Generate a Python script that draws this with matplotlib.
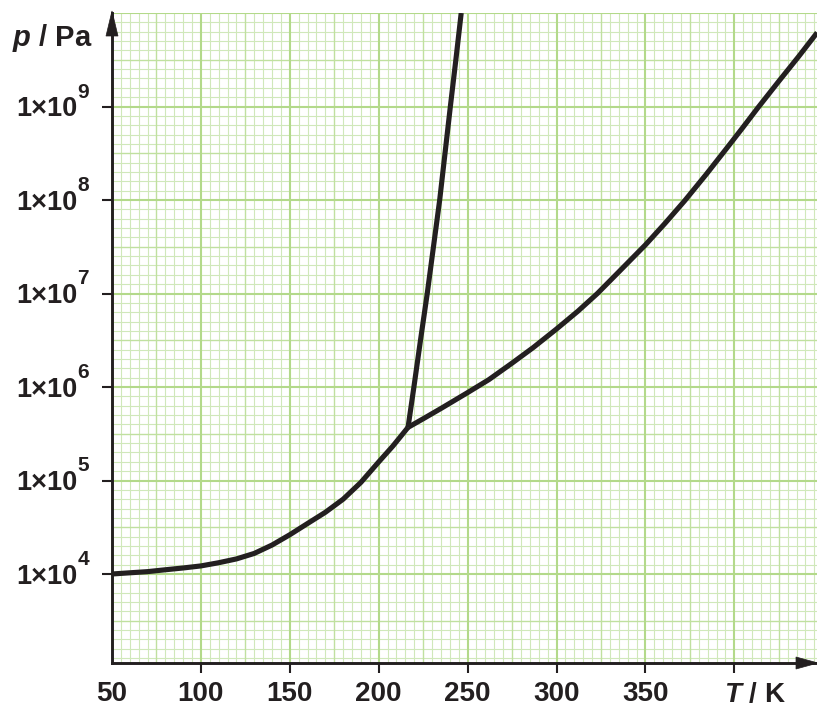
import numpy as np
import matplotlib
matplotlib.use("Agg")
import matplotlib.pyplot as plt
from matplotlib.patches import Polygon
from matplotlib.transforms import blended_transform_factory, offset_copy

# ---- data ----
sub_T = [50, 60, 70, 80, 90, 100, 110, 120, 130, 140, 150, 160, 170, 180, 190, 200, 208, 216.5]
sub_p = [1.0e4, 1.03e4, 1.06e4, 1.11e4, 1.16e4, 1.22e4, 1.32e4, 1.45e4, 1.66e4, 2.04e4,
         2.63e4, 3.47e4, 4.57e4, 6.31e4, 9.55e4, 1.58e5, 2.34e5, 3.7e5]

vap_T = [216.5, 225, 235, 250, 262, 275, 287, 300, 312, 323, 335, 350, 361, 372, 384,
         396, 405, 413, 425, 436, 446.6]
vap_p = [3.7e5, 4.57e5, 5.89e5, 8.71e5, 1.20e6, 1.80e6, 2.65e6, 4.17e6, 6.46e6, 1.0e7,
         1.70e7, 3.31e7, 5.62e7, 9.77e7, 1.86e8, 3.63e8, 6.03e8, 9.55e8, 1.86e9, 3.39e9, 6.17e9]

melt_T = [216.5, 219.8, 223.5, 227.3, 230.8, 234.3, 237.3, 240.3, 243.4, 246.4]
melt_p = [3.7e5, 1.0e6, 3.16e6, 1.0e7, 3.16e7, 1.0e8, 3.16e8, 1.0e9, 3.16e9, 1.0e10]

x_ticks = [50, 100, 150, 200, 250, 300, 350, 400]
x_labels = ["50", "100", "150", "200", "250", "300", "350", ""]
y_exps = [4, 5, 6, 7, 8, 9]

# ---- style ----
W, H = 817, 709
plt.rcParams["font.family"] = ["Liberation Sans", "DejaVu Sans"]
plt.rcParams["font.weight"] = "bold"
plt.rcParams["mathtext.fontset"] = "custom"
plt.rcParams["mathtext.rm"] = "Liberation Sans:bold"
plt.rcParams["mathtext.it"] = "Liberation Sans:italic:bold"
plt.rcParams["mathtext.bf"] = "Liberation Sans:bold"

INK = "#231f20"
MAJ = "#b3d98a"
MED = "#c0e09f"
MIN = "#d0e8ba"

fig = plt.figure(figsize=(W / 100, H / 100), dpi=100)
fig.patch.set_facecolor("white")

def fx(px):
    return px / W

def fy(py):
    return 1 - py / H

ax = fig.add_axes([fx(112), fy(663), fx(817) - fx(112), fy(13) - fy(663)])
ax.set_yscale("log")
ax.set_xlim(50, 50 + 705 / 88.9 * 50)
ax.set_ylim(10 ** (4 - 89 / 93.5), 1e10)

# graph-paper grid
for k in range(0, 90):
    xv = 50 + 5 * k
    if k % 10 == 0:
        ax.axvline(xv, color=MAJ, lw=1.5, zorder=1)
    elif k % 5 == 0:
        ax.axvline(xv, color=MED, lw=1.0, zorder=0.8)
    else:
        ax.axvline(xv, color=MIN, lw=0.8, zorder=0.5)
for k in range(30, 101):
    yv = 10 ** (k / 10)
    if k % 10 == 0:
        ax.axhline(yv, color=MAJ, lw=1.5, zorder=1)
    elif k % 5 == 0:
        ax.axhline(yv, color=MED, lw=1.0, zorder=0.8)
    else:
        ax.axhline(yv, color=MIN, lw=0.8, zorder=0.5)

# curves
for T, p in [(sub_T, sub_p), (vap_T, vap_p), (melt_T, melt_p)]:
    ax.plot(T, p, color=INK, lw=3.7, solid_joinstyle="round",
            solid_capstyle="butt", zorder=5)

# spines
for s in ["top", "right"]:
    ax.spines[s].set_visible(False)
for s in ["left", "bottom"]:
    ax.spines[s].set_color(INK)
    ax.spines[s].set_linewidth(2.1)
    ax.spines[s].set_zorder(6)

# ticks
ax.set_xticks(x_ticks)
ax.set_xticklabels(x_labels, fontsize=20, fontweight="bold", color=INK)
ax.xaxis.get_major_ticks()[0].tick1line.set_visible(False)
ax.set_yticks([10.0 ** e for e in y_exps])
ax.set_yticklabels([""] * len(y_exps))
ax.yaxis.set_minor_locator(matplotlib.ticker.NullLocator())
ax.tick_params(axis="both", which="major", direction="out", length=7.5,
               width=1.5, color=INK)
ax.tick_params(axis="x", pad=5.5)

# y tick labels 1×10^n
tr = blended_transform_factory(fig.transFigure, ax.transData)
for e in y_exps:
    ax.text(fx(77), 10.0 ** e, "1\u00d710", transform=offset_copy(tr, fig=fig, y=-10, units="dots"),
            ha="right", va="baseline", fontsize=19.5, fontweight="bold", color=INK)
    ax.text(fx(77.5), 10.0 ** e, str(e), transform=offset_copy(tr, fig=fig, y=9, units="dots"),
            ha="left", va="baseline", fontsize=15, fontweight="bold", color=INK)

# axis titles
fig.text(fx(12), fy(46), "$p$ / Pa", ha="left", va="baseline", fontsize=21,
         fontweight="bold", color=INK)
fig.text(fx(724), fy(702), "$T$ / K", ha="left", va="baseline", fontsize=20,
         fontweight="bold", color=INK)

# arrow heads
top_arrow = Polygon([[fx(106), fy(36)], [fx(118), fy(36)], [fx(112), fy(11)]],
                    closed=True, transform=fig.transFigure, facecolor=INK,
                    edgecolor=INK, lw=0.5, clip_on=False, zorder=10)
right_arrow = Polygon([[fx(796), fy(657)], [fx(796), fy(669)], [fx(818), fy(663)]],
                      closed=True, transform=fig.transFigure, facecolor=INK,
                      edgecolor=INK, lw=0.5, clip_on=False, zorder=10)
fig.patches.extend([top_arrow, right_arrow])

fig.savefig("out.png", dpi=100, facecolor="white")
